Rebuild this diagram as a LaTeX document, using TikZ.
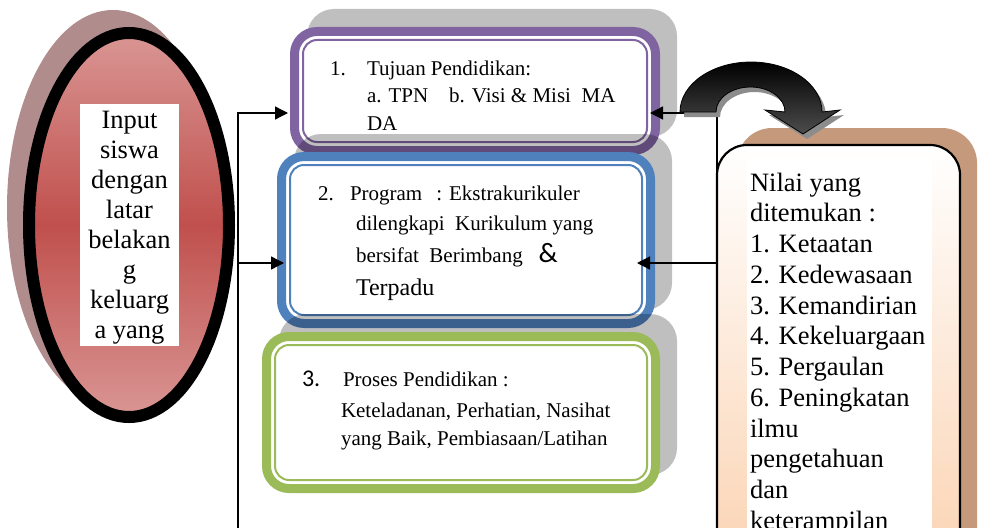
\documentclass[tikz,border=0pt]{standalone}
\usepackage{fontspec}
\setmainfont{Liberation Serif}
\newfontfamily\calib{Carlito}
\usetikzlibrary{arrows.meta,shapes.geometric}

\definecolor{boxpurple}{RGB}{128,100,162}
\definecolor{boxblue}{RGB}{79,129,189}
\definecolor{boxgreen}{RGB}{155,187,89}
\definecolor{rosedark}{RGB}{192,80,77}
\definecolor{roselight}{RGB}{217,150,148}
\definecolor{roseshadow}{RGB}{176,140,140}
\definecolor{tanframe}{RGB}{197,154,124}
\definecolor{peach}{RGB}{251,212,180}

\begin{document}
\begin{tikzpicture}[x=1pt,y=-1pt,
  txt/.style={anchor=base west, inner sep=0pt, outer sep=0pt},
  f21/.style={font=\fontsize{21pt}{27.5pt}\selectfont},
  boxframe/.style={rectangle, rounded corners=22.5pt, line width=9pt, fill=white,
    inner sep=0pt, outer sep=0pt},
  boxshadow/.style={fill=black, fill opacity=0.25, rounded corners=27pt},
  thinline/.style={line width=2pt, rounded corners=14pt},
  conn/.style={line width=1.3pt},
  arr/.style={conn, -{Triangle[length=13pt,width=13pt]}},
]
\useasboundingbox (0,0) rectangle (984,527);
\clip (0,0) rectangle (984,527);

% ---- input ellipse ----
\fill[roseshadow] (113,208) ellipse [x radius=106, y radius=198];
\node[ellipse, draw=black, line width=12pt, inner sep=0pt, outer sep=0pt,
  minimum width=200pt, minimum height=384pt,
  top color=roselight, bottom color=roselight, middle color=rosedark] (inp) at (129,225) {};
\fill[white] (80,104) rectangle (179,346);
\node[anchor=base, inner sep=0pt, font=\fontsize{26.5pt}{30pt}\selectfont] (inptxt) at (129.5,128)
  {\parbox[t]{99pt}{\centering Input\\siswa\\dengan\\latar\\belakan\\g\\keluarg\\a yang}};

% ---- box 1: goals ----
\fill[boxshadow] (307,9) rectangle (677,137);
\node[boxframe, draw=boxpurple, minimum width=361pt, minimum height=119pt] (b1) at (475,91) {};
\draw[boxpurple, thinline] ([shift={(8.5,8.5)}]b1.north west) rectangle ([shift={(-8.5,-8.5)}]b1.south east);
\node[txt,f21] (n1) at (330,75) {1.};
\node[txt,f21] (t1) at (367,75)
  {\parbox[t]{290pt}{Tujuan Pendidikan:\\a. TPN\hspace{1em}b. Visi \& Misi\ \ MA\\DA}};

% ---- box 2: programme ----
\fill[boxshadow] (294,134) rectangle (672,310);
\node[boxframe, draw=boxblue, minimum width=369pt, minimum height=167pt] (b2) at (466,240) {};
\draw[boxblue, thinline] ([shift={(8.5,8.5)}]b2.north west) rectangle ([shift={(-8.5,-8.5)}]b2.south east);
\node[txt,f21] (n2) at (318,200) {2.};
\node[txt,f21] (t2a) at (350,200) {Program\ \ \,: Ekstrakurikuler};
\node[txt,f21] (t2b) at (356,230) {dilengkapi\ \ Kurikulum yang};
\node[txt,f21] (t2c) at (356,262) {bersifat\ \ Berimbang\ \ \ {\calib\fontsize{28pt}{30pt}\selectfont\&}};
\node[txt,font=\fontsize{24pt}{28pt}\selectfont] (t2d) at (356,295) {Terpadu};

% ---- box 3: process ----
\fill[boxshadow] (279,314) rectangle (677,475);
\node[boxframe, draw=boxgreen, minimum width=389pt, minimum height=152pt] (b3) at (461,412.5) {};
\draw[boxgreen, thinline] ([shift={(8.5,8.5)}]b3.north west) rectangle ([shift={(-8.5,-8.5)}]b3.south east);
\node[txt,font=\calib\fontsize{24pt}{28pt}\selectfont] (n3) at (302,386) {3.};
\node[txt,f21] (t3a) at (343,386) {Proses Pendidikan :};
\node[txt,f21] (t3b) at (341,417) {Keteladanan, Perhatian, Nasihat};
\node[txt,f21] (t3c) at (341,445) {yang Baik, Pembiasaan/Latihan};

% ---- values box ----
\fill[tanframe, rounded corners=35pt] (737,128) rectangle (977,620);
\node[rectangle, draw=black, line width=2.2pt, rounded corners=30pt, inner sep=0pt, outer sep=0pt,
  minimum width=243pt, minimum height=415pt, top color=white, bottom color=peach] (rb) at (838.5,352.5) {};
\fill[white] (747,158) rectangle (932,560);
\node[txt, font=\fontsize{26.5pt}{30.75pt}\selectfont] (rt) at (750,191)
  {\parbox[t]{200pt}{Nilai yang\\ditemukan :\\1. Ketaatan\\2. Kedewasaan\\3. Kemandirian\\4. Kekeluargaan\\5. Pergaulan\\6. Peningkatan\\ilmu\\pengetahuan\\dan\\keterampilan}};

% ---- connectors ----
\coordinate (lbot) at (238,540);
\coordinate (ltop) at (238,113);
\coordinate (lmid) at (238,263);
\draw[arr, shorten >=6.5pt] (lbot) -- (ltop) -- (ltop -| b1.west);
\draw[arr, shorten >=-2.5pt] (lmid) -- (lmid -| b2.west);

\coordinate (rtop) at (rb.west |- 0,113);
\coordinate (rmid) at (rb.west |- 0,263);
\draw[arr, shorten >=-5.5pt] (rmid) -- (rtop) -- (rtop -| b1.east);
\draw[arr, shorten >=-13.5pt] (rmid) -- (rmid -| b2.east);

% ---- curved block arrow ----
\fill[black!45, shift={(4,5)}]
  (680,112) arc[start angle=180, end angle=360, x radius=71, y radius=50]
  -- (840,110) -- (803,134) -- (765,110) -- (785,112)
  arc[start angle=360, end angle=180, x radius=34.5, y radius=25] -- cycle;
\path[draw=black, line width=0.8pt, top color=black, bottom color=black!70]
  (680,112) arc[start angle=180, end angle=360, x radius=71, y radius=50]
  -- (840,110) -- (803,134) -- (765,110) -- (785,112)
  arc[start angle=360, end angle=180, x radius=34.5, y radius=25] -- cycle;
\end{tikzpicture}
\end{document}
